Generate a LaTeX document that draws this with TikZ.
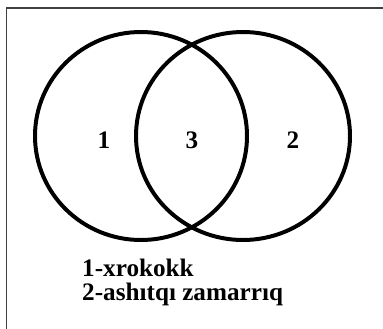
\documentclass[tikz,border=0pt]{standalone}
\usepackage{fontspec}
\setmainfont{Liberation Serif}

\begin{document}
\begin{tikzpicture}[x=0.03cm, y=-0.03cm,
    ring/.style={line width=3.4pt},
    lbl/.style={font=\bfseries\fontsize{21.5}{20.5}\selectfont, inner sep=0pt}]
        \useasboundingbox (0,0) rectangle (383,329);

        % --- cornice (solo lato sinistro e superiore) ---
        \draw[line width=1.7pt, black!75] (6.5,329) -- (6.5,8) -- (383,8);

        % centri degli insiemi
        \coordinate (L) at (141,136);
        \coordinate (R) at (243,136);

        % Disegno dei due insiemi
        \draw[ring] (L) ellipse [x radius=106, y radius=104];
        \draw[ring] (R) ellipse [x radius=107, y radius=104];

        % Etichette delle regioni
        \node[lbl, anchor=base] (n1) at (104,148) {1};
        \node[lbl, anchor=base] (n3) at (192,148) {3};
        \node[lbl, anchor=base] (n2) at (293,148) {2};

        % Legenda
        \node[lbl, anchor=north west, align=left] (leg) at (82,259)
            {1-xrokokk\\2-ashıtqı zamarrıq};
    \end{tikzpicture}
\end{document}
